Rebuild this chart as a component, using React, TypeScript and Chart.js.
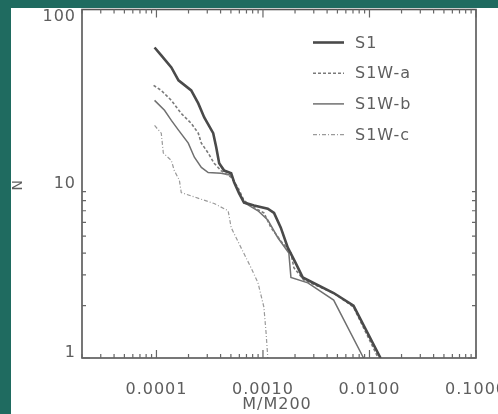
import React, { useEffect, useRef } from 'react';
import { Chart, registerables } from 'chart.js';

Chart.register(...registerables);

const seriesLabels = ['S1', 'S1W-a', 'S1W-b', 'S1W-c'];

const s1Mass = [9.6e-5, 1.11e-4, 1.38e-4, 1.61e-4, 2.12e-4, 2.47e-4, 2.81e-4, 3.41e-4, 3.64e-4, 3.88e-4, 4.32e-4, 5.03e-4, 5.36e-4, 5.97e-4, 6.64e-4, 8.24e-4, 1.11e-3, 1.27e-3, 1.47e-3, 1.71e-3, 2.03e-3, 2.36e-3, 4.61e-3, 7.08e-3, 0.0127];
const s1N = [60.5, 54.5, 46.5, 39.2, 34.3, 28.9, 24.0, 19.5, 16.2, 13.1, 11.9, 11.5, 10.2, 8.8, 7.8, 7.5, 7.2, 6.8, 5.6, 4.3, 3.5, 2.9, 2.36, 2.0, 1.0];

const s1waMass = [9.4e-5, 1.11e-4, 1.38e-4, 1.71e-4, 2.12e-4, 2.47e-4, 2.64e-4, 3.06e-4, 3.48e-4, 4.04e-4, 5.03e-4, 5.83e-4, 6.64e-4, 8.24e-4, 1.02e-3, 1.19e-3, 1.47e-3, 1.83e-3, 1.95e-3, 2.42e-3, 4.61e-3, 7.08e-3, 0.0121];
const s1waN = [36.7, 34.3, 30.1, 25.3, 22.2, 19.5, 17.1, 15.0, 13.1, 11.9, 10.9, 9.5, 8.0, 7.3, 6.8, 5.6, 4.7, 4.0, 3.3, 2.8, 2.36, 1.96, 1.0];

const s1wbMass = [9.6e-5, 1.19e-4, 1.38e-4, 1.61e-4, 1.99e-4, 2.27e-4, 2.64e-4, 3.06e-4, 4.04e-4, 5.03e-4, 5.83e-4, 6.64e-4, 8.98e-4, 1.11e-3, 1.38e-3, 1.75e-3, 1.83e-3, 2.64e-3, 4.61e-3, 8.8e-3];
const s1wbN = [30.1, 26.4, 23.1, 20.3, 17.1, 14.2, 12.4, 11.6, 11.5, 11.2, 9.2, 7.8, 7.0, 6.2, 4.9, 4.0, 2.9, 2.7, 2.15, 1.0];

const s1wcMass = [9.6e-5, 1.11e-4, 1.16e-4, 1.38e-4, 1.47e-4, 1.64e-4, 1.71e-4, 2.27e-4, 3.48e-4, 4.71e-4, 5.03e-4, 6.22e-4, 7.72e-4, 8.98e-4, 1.02e-3, 1.07e-3, 1.11e-3];
const s1wcN = [21.6, 19.5, 15.0, 13.6, 11.9, 10.5, 8.9, 8.4, 7.7, 7.0, 5.6, 4.3, 3.3, 2.7, 1.96, 1.39, 1.0];

const xTickValues = [0.0001, 0.001, 0.01, 0.1];
const xTickLabels = ['0.0001', '0.0010', '0.0100', '0.1000'];
const yTickValues = [1, 10, 100];
const yTickLabels = ['1', '10', '100'];
const xTitle = 'M/M200';
const yTitle = 'N';

const TEXT = '#5e5e5e';
const AXIS = '#555555';
const FONT = '16px "DejaVu Sans", sans-serif';

function pairs(xs: number[], ys: number[]) {
  return xs.map((x, i) => ({ x, y: ys[i] }));
}

const decorPlugin = {
  id: 'idlDecor',
  afterDraw(chart: any) {
    const { ctx, chartArea } = chart;
    const xs = chart.scales.x;
    const ys = chart.scales.y;
    const { left, right, top, bottom } = chartArea;
    ctx.save();
    // box
    ctx.strokeStyle = AXIS;
    ctx.lineWidth = 1.6;
    ctx.strokeRect(left, top, right - left, bottom - top);
    // ticks
    ctx.lineWidth = 1.2;
    ctx.strokeStyle = '#666';
    ctx.beginPath();
    for (let d = -6; d <= 0; d++) {
      for (let k = 1; k <= 9; k++) {
        const v = k * Math.pow(10, d);
        if (v >= xs.min * 0.999 && v <= xs.max * 1.001) {
          const px = xs.getPixelForValue(v);
          const len = k === 1 ? 8 : 4;
          ctx.moveTo(px, bottom);
          ctx.lineTo(px, bottom - len);
          ctx.moveTo(px, top);
          ctx.lineTo(px, top + len);
        }
        if (v >= ys.min * 0.999 && v <= ys.max * 1.001) {
          const py = ys.getPixelForValue(v);
          const len = k === 1 ? 8 : 4;
          ctx.moveTo(left, py);
          ctx.lineTo(left + len, py);
          ctx.moveTo(right, py);
          ctx.lineTo(right - len, py);
        }
      }
    }
    ctx.stroke();
    // tick labels
    ctx.fillStyle = TEXT;
    ctx.font = FONT;
    (ctx as any).letterSpacing = '1px';
    ctx.textAlign = 'center';
    ctx.textBaseline = 'middle';
    xTickValues.forEach((v, i) => {
      const px = xs.getPixelForValue(v);
      ctx.fillText(xTickLabels[i], px, bottom + 32);
    });
    ctx.textAlign = 'right';
    yTickValues.forEach((v, i) => {
      let py = ys.getPixelForValue(v);
      py = Math.min(Math.max(py, top + 7), bottom - 5);
      ctx.fillText(yTickLabels[i], left - 6, py);
    });
    // titles
    ctx.textAlign = 'center';
    ctx.fillText(xTitle, (left + right) / 2 - 2, bottom + 47);
    ctx.save();
    ctx.font = '14px "DejaVu Sans", sans-serif';
    ctx.textBaseline = 'alphabetic';
    ctx.translate(11, (top + bottom) / 2 + 1);
    ctx.rotate(-Math.PI / 2);
    ctx.fillText(yTitle, 0, 0);
    ctx.restore();
    // legend
    const lx0 = left + 231;
    const lx1 = left + 262;
    const tx = left + 273;
    chart.data.datasets.forEach((ds: any, i: number) => {
      const y = top + 33 + i * 30.7;
      ctx.save();
      ctx.strokeStyle = ds.borderColor;
      ctx.lineWidth = ds.borderWidth;
      ctx.setLineDash(ds.borderDash || []);
      ctx.beginPath();
      ctx.moveTo(lx0, y);
      ctx.lineTo(lx1, y);
      ctx.stroke();
      ctx.restore();
      ctx.textAlign = 'left';
      ctx.fillStyle = TEXT;
      ctx.fillText(ds.label, tx, y + 1);
    });
    ctx.restore();
  },
};

export default function App() {
  const ref = useRef<HTMLCanvasElement | null>(null);
  useEffect(() => {
    if (!ref.current) return;
    const chart = new Chart(ref.current, {
      type: 'line',
      data: {
        datasets: [
          { label: seriesLabels[0], data: pairs(s1Mass, s1N), borderColor: '#4a4a4a', borderWidth: 2.6, pointRadius: 0, tension: 0 },
          { label: seriesLabels[1], data: pairs(s1waMass, s1waN), borderColor: '#7a7a7a', borderWidth: 1.6, borderDash: [3, 2], pointRadius: 0, tension: 0 },
          { label: seriesLabels[2], data: pairs(s1wbMass, s1wbN), borderColor: '#707070', borderWidth: 1.5, pointRadius: 0, tension: 0 },
          { label: seriesLabels[3], data: pairs(s1wcMass, s1wcN), borderColor: '#9a9a9a', borderWidth: 1.2, borderDash: [4, 2, 1, 2], pointRadius: 0, tension: 0 },
        ],
      },
      options: {
        responsive: false,
        animation: false,
        devicePixelRatio: 1,
        layout: { padding: { left: 71, right: 22, top: 1.5, bottom: 56 } },
        plugins: { legend: { display: false }, tooltip: { enabled: false } },
        scales: {
          x: { type: 'logarithmic', min: 2e-5, max: 0.1, display: false },
          y: { type: 'logarithmic', min: 1, max: 100, display: false },
        },
      },
      plugins: [decorPlugin],
    });
    return () => chart.destroy();
  }, []);
  return (
    <div style={{ position: 'fixed', left: 0, top: 0, width: 498, height: 414, background: '#1f6b60', overflow: 'hidden' }}>
      <div style={{ position: 'absolute', left: 11, top: 8, width: 487, height: 406, background: '#ffffff' }}>
        <canvas ref={ref} width={487} height={406} style={{ display: 'block', width: 487, height: 406 }} />
      </div>
    </div>
  );
}
